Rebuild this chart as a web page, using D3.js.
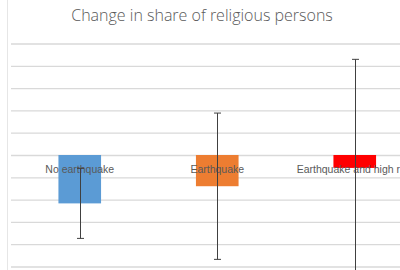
<!DOCTYPE html>
<html>
<head>
<meta charset="utf-8">
<script src="https://cdn.jsdelivr.net/npm/d3@7"></script>
<style>
  body { margin: 0; background: #fff; overflow: hidden; }
</style>
</head>
<body>
<div id="container"></div>
<script>
/* CONSTANTS AND GLOBALS */
const width = 400,
  height = 270,
  margin = { top: 43.5, bottom: 3.5, left: 11, right: -23.5 };

// DATA (in gridline steps)
const categories = ["No earthquake", "Earthquake", "Earthquake and high risk"];
const values = [-2.17, -1.40, -0.58];
const errors = [1.57, 3.28, 4.87];
const colors = ["#5b9bd5", "#ed7d31", "#ff0000"];
const yTicks = [-5, -4, -3, -2, -1, 0, 1, 2, 3, 4, 5];

const data = categories.map((c, i) => ({ cat: c, value: values[i], err: errors[i], color: colors[i] }));

// CREATE SVG
const svg = d3.select("#container")
  .append("svg")
  .attr("width", width)
  .attr("height", height);

// SCALES
const x = d3.scaleBand()
  .domain(categories)
  .range([margin.left, width - margin.right])
  .paddingInner(0.69)
  .paddingOuter(0.345);

const y = d3.scaleLinear()
  .domain([-5, 5])
  .range([height - margin.bottom, margin.top]);

// chart border line on the left
svg.append("line")
  .attr("x1", 7.5).attr("x2", 7.5)
  .attr("y1", 0).attr("y2", height)
  .attr("stroke", "#e6e6e6")
  .attr("stroke-width", 1);

// TITLE
svg.append("text")
  .attr("x", 202)
  .attr("y", 21)
  .attr("text-anchor", "middle")
  .attr("font-family", "Open Sans, sans-serif")
  .attr("font-weight", 300)
  .attr("font-size", 16)
  .attr("fill", "#595959")
  .text("Change in share of religious persons");

// GRIDLINES
svg.append("g")
  .attr("transform", `translate(${margin.left},0)`)
  .call(d3.axisLeft(y).tickValues(yTicks).tickSize(-(width - margin.left)).tickFormat(""))
  .call(g => g.select(".domain").remove())
  .call(g => g.selectAll(".tick line").attr("stroke", "#d9d9d9").attr("stroke-width", 1.3));

// BARS
svg.selectAll(".bar")
  .data(data)
  .join("rect")
  .attr("class", "bar")
  .attr("x", d => x(d.cat))
  .attr("width", x.bandwidth())
  .attr("y", d => y(Math.max(0, d.value)))
  .attr("height", d => Math.abs(y(d.value) - y(0)))
  .attr("fill", d => d.color);

// CATEGORY LABELS (at zero line)
svg.selectAll(".cat-label")
  .data(data)
  .join("text")
  .attr("class", "cat-label")
  .attr("x", d => x(d.cat) + x.bandwidth() / 2)
  .attr("y", y(0) + 18)
  .attr("text-anchor", "middle")
  .attr("font-family", "Liberation Sans, sans-serif")
  .attr("font-size", 10.5)
  .attr("fill", "#595959")
  .text(d => d.cat);

// ERROR BARS
const eb = svg.selectAll(".err")
  .data(data)
  .join("g")
  .attr("class", "err")
  .attr("stroke", "#404040")
  .attr("stroke-width", 1);

const cx = d => Math.round(x(d.cat) + x.bandwidth() / 2) + 0.5;

eb.append("line")
  .attr("x1", cx).attr("x2", cx)
  .attr("y1", d => y(d.value + d.err))
  .attr("y2", d => y(d.value - d.err));

eb.append("line")
  .attr("x1", d => cx(d) - 3.5).attr("x2", d => cx(d) + 3.5)
  .attr("y1", d => y(d.value + d.err))
  .attr("y2", d => y(d.value + d.err));

eb.append("line")
  .attr("x1", d => cx(d) - 3.5).attr("x2", d => cx(d) + 3.5)
  .attr("y1", d => y(d.value - d.err))
  .attr("y2", d => y(d.value - d.err));
</script>
</body>
</html>
